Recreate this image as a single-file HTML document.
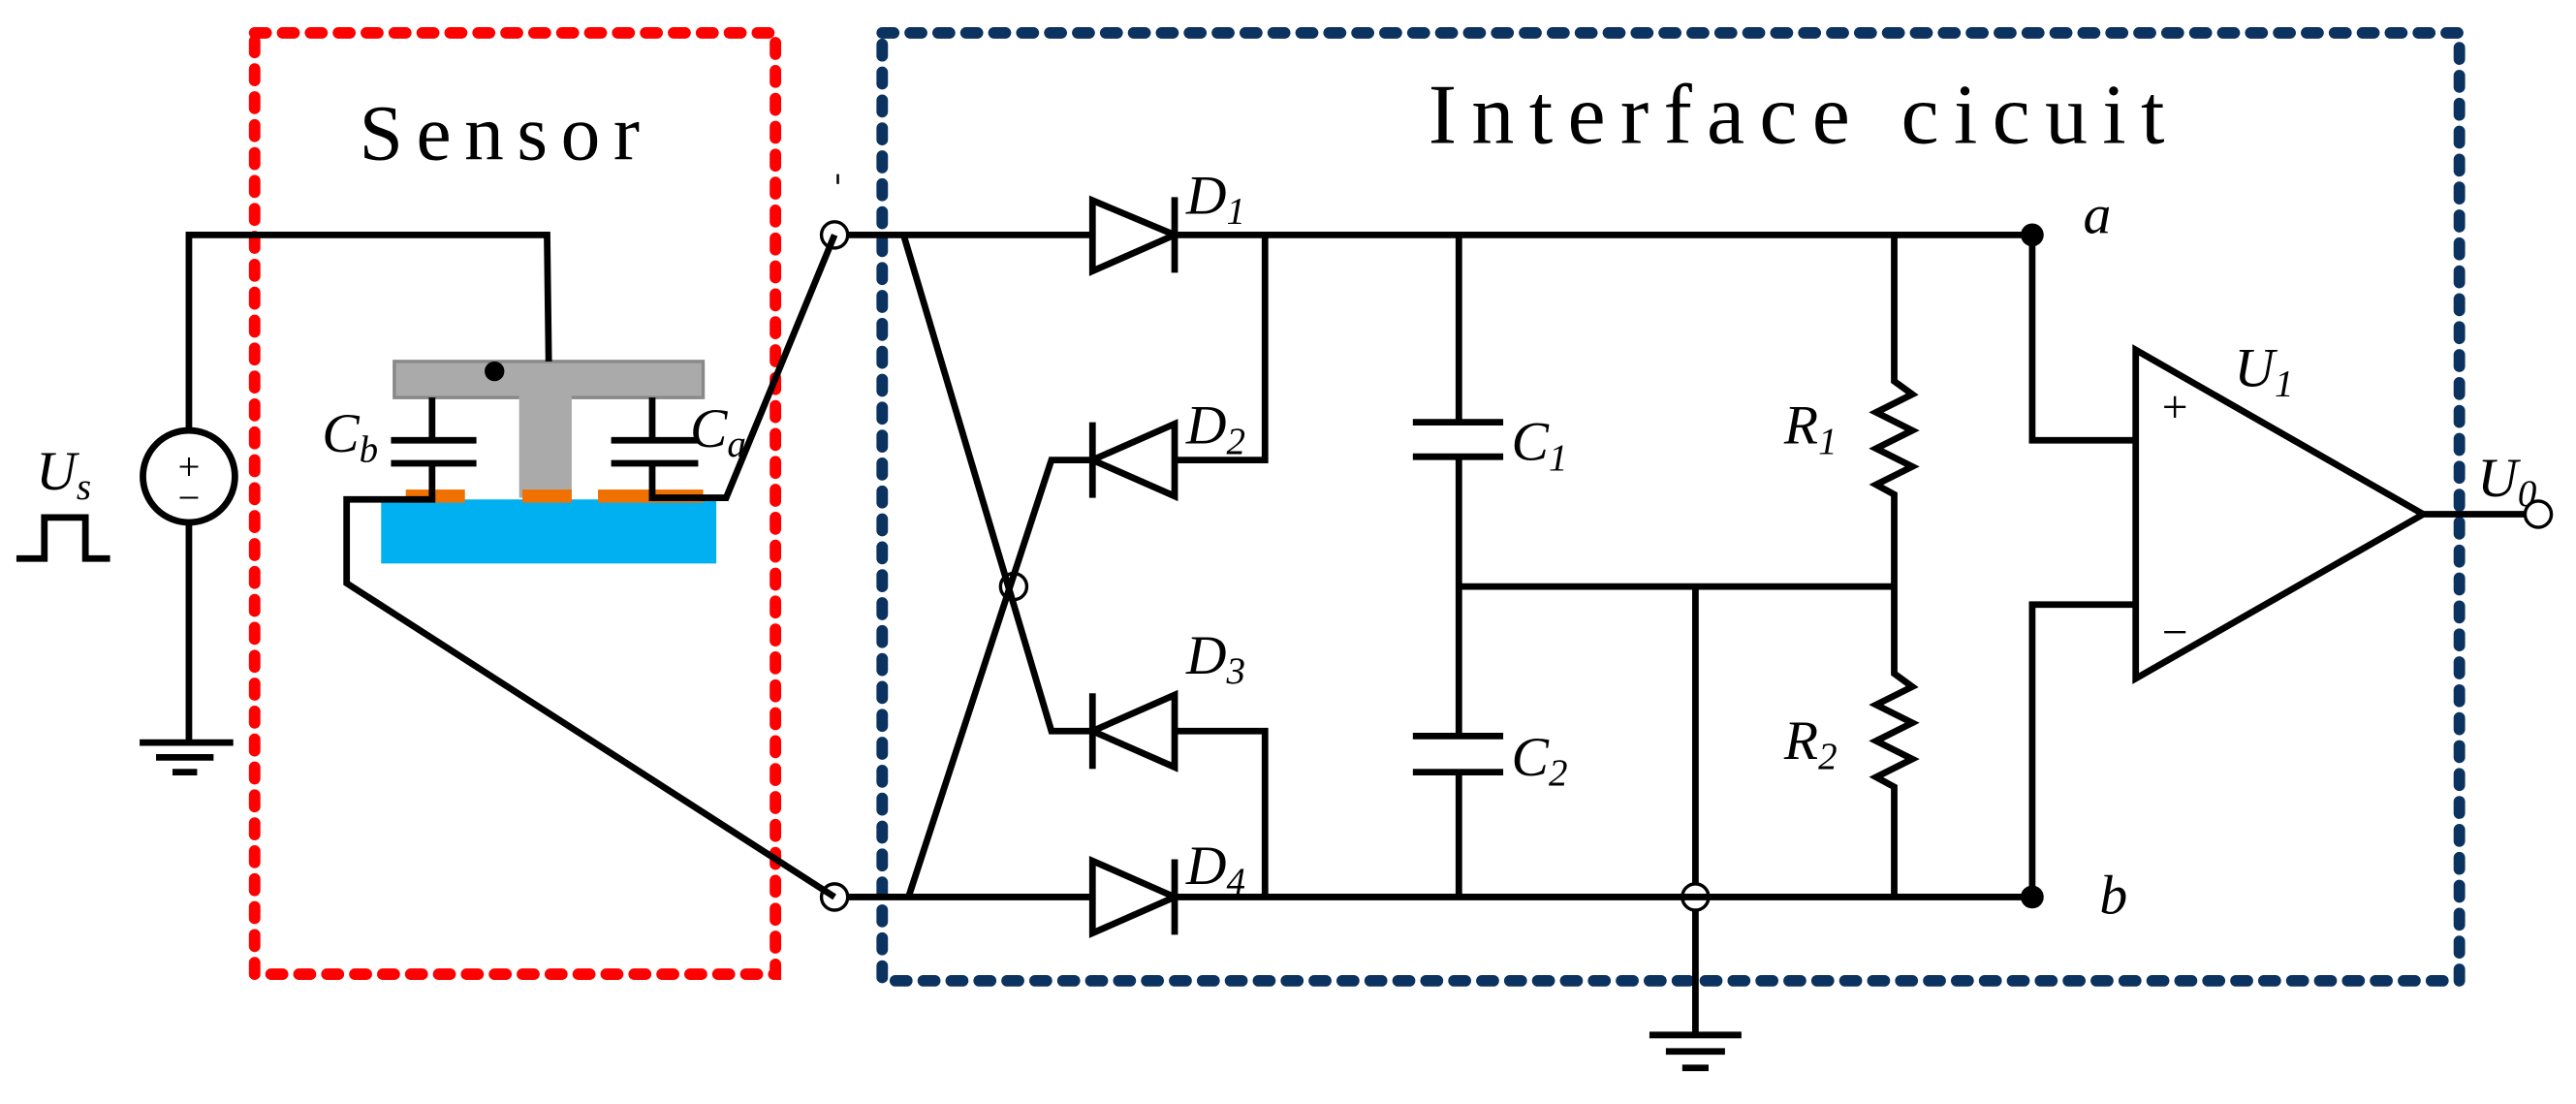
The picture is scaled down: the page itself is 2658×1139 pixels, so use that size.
<!DOCTYPE html>
<html><head><meta charset="utf-8"><style>
html,body{margin:0;padding:0;background:#fff;}
svg{display:block;}
text{font-family:"Liberation Serif",serif;}
.l{font-style:italic;font-size:34px;}
.s{font-size:23px;font-style:italic;}
</style></head><body>
<svg width="2658" height="1139" viewBox="0 0 1568 672" preserveAspectRatio="none" xmlns="http://www.w3.org/2000/svg">
<g fill="none" stroke-linecap="round">
<rect x="155" y="20" width="317" height="573" stroke="#ff0000" stroke-width="7" stroke-dasharray="7,10"/>
<rect x="537" y="20" width="960" height="577" stroke="#0c3260" stroke-width="7" stroke-dasharray="7,10"/>
</g>
<text x="308" y="97" font-size="48" text-anchor="middle" letter-spacing="8">Sensor</text>
<text x="1098" y="87" font-size="52" text-anchor="middle" letter-spacing="9">Interface cicuit</text>

<rect x="232" y="304" width="204" height="39" fill="#00b0f0"/>
<rect x="240" y="220" width="188" height="22" fill="#aaaaaa" stroke="#888" stroke-width="2"/>
<rect x="316" y="241" width="32" height="62" fill="#aaaaaa"/>
<rect x="247" y="298" width="36" height="8" fill="#f07000"/>
<rect x="318" y="298" width="30" height="8" fill="#f07000"/>
<rect x="364" y="298" width="64" height="8" fill="#f07000"/>
<circle cx="301" cy="226" r="6" fill="#000"/>

<g fill="none" stroke="#000" stroke-width="4">
<polyline points="115,262 115,143 333,143 334,220"/>
<circle cx="115" cy="290" r="28"/>
<line x1="115" y1="318" x2="115" y2="452"/>
<line x1="85" y1="452" x2="142" y2="452"/>
<line x1="95" y1="461" x2="130" y2="461"/>
<line x1="105" y1="470" x2="120" y2="470"/>
<polyline points="10,340 27,340 27,315 52,315 52,340 67,340"/>
<line x1="263" y1="242" x2="263" y2="268"/>
<line x1="238" y1="268" x2="290" y2="268"/>
<line x1="238" y1="282" x2="290" y2="282"/>
<polyline points="263,282 263,304 211,304 211,355 508,546"/>
<line x1="397" y1="242" x2="397" y2="268"/>
<line x1="372" y1="268" x2="425" y2="268"/>
<line x1="372" y1="282" x2="425" y2="282"/>
<polyline points="397,282 397,303 442,303 508,143"/>
<circle cx="508" cy="143" r="8" stroke-width="2"/>
<circle cx="508" cy="546" r="8" stroke-width="2"/>
<line x1="510" y1="106" x2="510" y2="112" stroke-width="1.5"/>
<line x1="516" y1="143" x2="665" y2="143"/>
<line x1="715" y1="143" x2="1237" y2="143"/>
<line x1="516" y1="546" x2="665" y2="546"/>
<line x1="715" y1="546" x2="1237" y2="546"/>
<polygon points="665,122 665,165 715,143"/>
<line x1="715" y1="120" x2="715" y2="166"/>
<polygon points="665,524 665,568 715,546"/>
<line x1="715" y1="523" x2="715" y2="569"/>
<polygon points="715,258 715,302 665,280"/>
<line x1="665" y1="257" x2="665" y2="303"/>
<polyline points="715,280 770,280 770,143"/>
<polyline points="665,280 640,280 553,546"/>
<polygon points="715,423 715,467 665,445"/>
<line x1="665" y1="422" x2="665" y2="468"/>
<polyline points="715,445 770,445 770,546"/>
<polyline points="550,143 640,445 665,445"/>
<circle cx="617" cy="357" r="8" stroke-width="2"/>
<line x1="888" y1="143" x2="888" y2="257"/>
<line x1="860" y1="257" x2="915" y2="257"/>
<line x1="860" y1="278" x2="915" y2="278"/>
<line x1="888" y1="278" x2="888" y2="448"/>
<line x1="860" y1="448" x2="915" y2="448"/>
<line x1="860" y1="470" x2="915" y2="470"/>
<line x1="888" y1="470" x2="888" y2="546"/>
<line x1="888" y1="357" x2="1153" y2="357"/>
<polyline points="1153,143 1153,232 1164,240 1142,251 1164,262 1142,273 1164,284 1142,295 1153,301 1153,410 1164,418 1142,429 1164,440 1142,451 1164,462 1142,473 1153,479 1153,546"/>
<line x1="1032" y1="357" x2="1032" y2="538"/>
<line x1="1032" y1="554" x2="1032" y2="630"/>
<circle cx="1032" cy="546" r="8" stroke-width="2"/>
<line x1="1004" y1="630" x2="1060" y2="630"/>
<line x1="1014" y1="640" x2="1050" y2="640"/>
<line x1="1024" y1="650" x2="1040" y2="650"/>
<polyline points="1237,143 1237,268 1300,268"/>
<polyline points="1237,546 1237,368 1300,368"/>
<polygon points="1300,213 1300,413 1475,313"/>
<line x1="1475" y1="313" x2="1537" y2="313"/>
<circle cx="1545" cy="313" r="8" stroke-width="2"/>
</g>
<circle cx="1237" cy="143" r="7" fill="#000"/>
<circle cx="1237" cy="546" r="7" fill="#000"/>
<text x="115" y="292" font-size="24" text-anchor="middle" font-family="Liberation Sans">+</text>
<text x="115" y="311" font-size="24" text-anchor="middle" font-family="Liberation Sans">−</text>
<text x="1316" y="257" font-size="28" font-family="Liberation Sans">+</text>
<text x="1316" y="394" font-size="28" font-family="Liberation Sans">−</text>

<text class="l" x="22" y="298">U<tspan class="s" dy="6">s</tspan></text>
<text class="l" x="196" y="275">C<tspan class="s" dy="6">b</tspan></text>
<text class="l" x="420" y="272">C<tspan class="s" dy="6">a</tspan></text>
<text class="l" x="722" y="130">D<tspan class="s" dy="6">1</tspan></text>
<text class="l" x="722" y="270">D<tspan class="s" dy="6">2</tspan></text>
<text class="l" x="722" y="410">D<tspan class="s" dy="6">3</tspan></text>
<text class="l" x="722" y="538">D<tspan class="s" dy="6">4</tspan></text>
<text class="l" x="920" y="280">C<tspan class="s" dy="6">1</tspan></text>
<text class="l" x="920" y="472">C<tspan class="s" dy="6">2</tspan></text>
<text class="l" x="1086" y="270">R<tspan class="s" dy="6">1</tspan></text>
<text class="l" x="1086" y="462">R<tspan class="s" dy="6">2</tspan></text>
<text class="l" x="1268" y="142">a</text>
<text class="l" x="1278" y="556">b</text>
<text class="l" x="1360" y="235">U<tspan class="s" dy="6">1</tspan></text>
<text class="l" x="1508" y="302">U<tspan class="s" dy="6">0</tspan></text>
</svg>
</body></html>
